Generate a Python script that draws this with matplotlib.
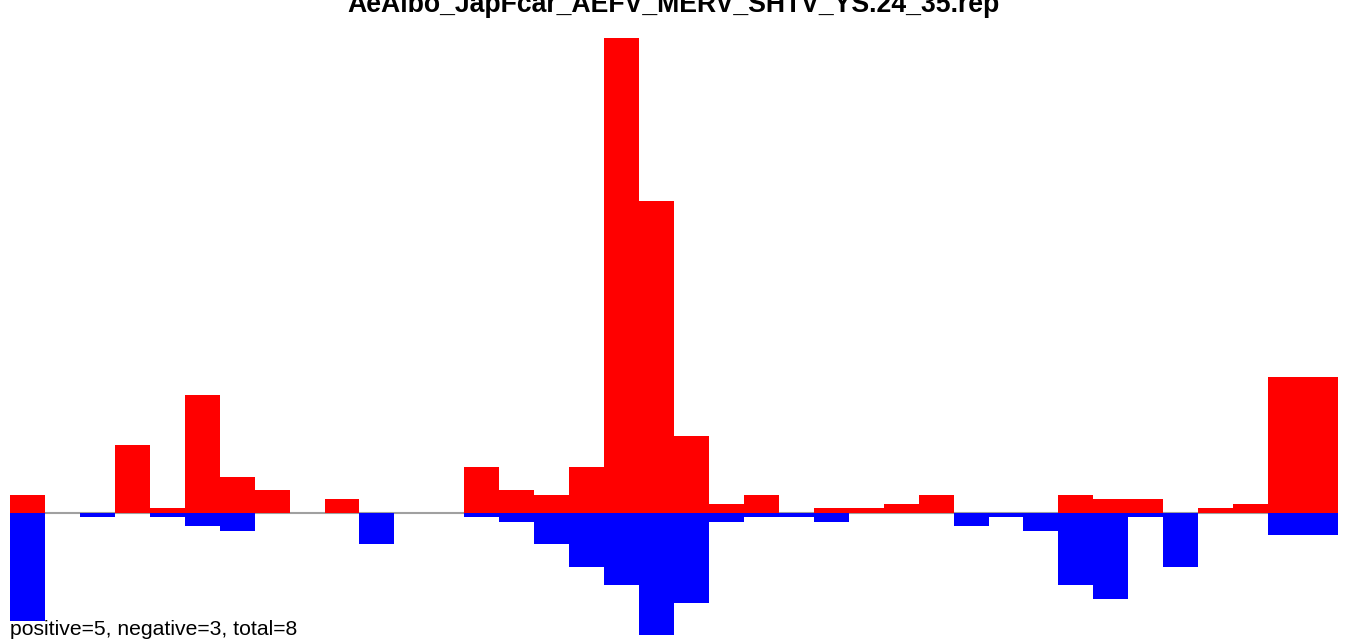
import matplotlib
matplotlib.use("Agg")
import matplotlib.pyplot as plt
import numpy as np

title = "AeAlbo_JapFcar_AEFV_MERV_SHTV_YS.24_35.rep"
footer = "positive=5, negative=3, total=8"

# per-bin counts (38 bins)
positive = [4, 0, 0, 15, 1, 26, 8, 5, 0, 3,
            0, 0, 0, 10, 5, 4, 10, 105, 69, 17,
            2, 4, 0, 1, 1, 2, 4, 0, 0, 0,
            4, 3, 3, 0, 1, 2, 30, 30]
negative = [24, 0, 1, 0, 1, 3, 4, 0, 0, 0,
            7, 0, 0, 1, 2, 7, 12, 16, 27, 20,
            2, 1, 1, 2, 0, 0, 0, 3, 1, 4,
            16, 19, 1, 12, 0, 0, 5, 5]

W, H, DPI = 1347, 641, 100
fig = plt.figure(figsize=(W / DPI, H / DPI), dpi=DPI)
ax = fig.add_axes([10 / W, 0, 1328 / W, 1])

n = len(positive)
x = np.arange(n)
ax.bar(x, positive, width=1.0, align="edge", color="#ff0000", linewidth=0, zorder=2)
ax.bar(x, -np.array(negative), width=1.0, align="edge", color="#0000ff", linewidth=0, zorder=2)
ax.axhline(0, color="#a0a0a0", linewidth=1.5, zorder=1)

px_per_unit = 475 / 105
base_px = 512.7
ax.set_xlim(0, n)
ax.set_ylim(-(H - base_px) / px_per_unit, base_px / px_per_unit)
ax.axis("off")

fig.text(673 / W, 1 - 12 / H, title, ha="center", va="baseline",
         fontsize=19.2, fontweight="bold", family="Liberation Sans")
fig.text(10 / W, 1 - 635 / H, footer, ha="left", va="baseline",
         fontsize=15.2, family="Liberation Sans", zorder=5)

fig.savefig("out.png", dpi=DPI)
